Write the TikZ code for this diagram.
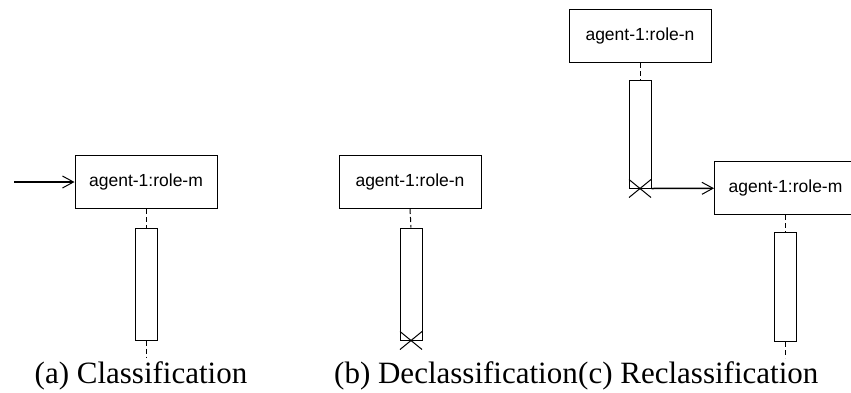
\documentclass[tikz,border=0pt]{standalone}
\usepackage{fontspec}
\setmainfont{Liberation Serif}
\setsansfont{Liberation Sans}
\usetikzlibrary{positioning,arrows.meta,calc}

\begin{document}
\begin{tikzpicture}[
        x=1pt, y=-1pt,
        role/.style={
            rectangle,
            draw=black,
            line width=1pt,
            minimum width=142pt,
            minimum height=53pt,
            inner sep=0pt,
            font=\sffamily\fontsize{17.5}{20}\selectfont
        },
        activation/.style={
            rectangle,
            draw=black,
            line width=1pt,
            minimum width=22pt,
            inner sep=0pt
        },
        lifeline/.style={line width=1pt, dash pattern=on 5pt off 3pt},
        msg/.style={line width=1.5pt, -{Straight Barb[length=11pt,width=12pt,line width=1pt]}},
        caption/.style={inner sep=0pt, anchor=base, font=\fontsize{31}{34}\selectfont}
    ]
    \useasboundingbox (0,0) rectangle (851,392);

    % (a) classification
    \coordinate (startA) at (14,182);
    \node[role] (roleA) at (146,182) {agent-1:role-m};
    \node[activation, minimum height=112pt] (barA) at (146,284) {};
    \coordinate (endA) at (146,358);
    \draw[msg] (startA) -- (roleA);
    \draw[lifeline] (roleA.south) -- (barA.north);
    \draw[lifeline] (barA.south) -- (endA);

    % (b) declassification
    \node[role] (roleB) at (410,182) {agent-1:role-n};
    \node[activation, minimum height=112pt] (barB) at (411,284) {};
    \draw[lifeline] (roleB.south) -- (barB.north);
    \draw[line width=1pt] ($(barB.south)+(-11,-9)$) -- ($(barB.south)+(11,9)$);
    \draw[line width=1pt] ($(barB.south)+(-11,9)$) -- ($(barB.south)+(11,-9)$);

    % (c) reclassification
    \node[role] (roleN) at (640,36) {agent-1:role-n};
    \node[activation, minimum height=108pt] (barN) at (640,134) {};
    \node[role, anchor=west] (roleM) at (714,188) {agent-1:role-m};
    \node[activation, minimum height=109pt] (barM) at (roleM.center |- 0,287) {};
    \coordinate (endM) at (roleM.center |- 0,358);
    \draw[lifeline] (roleN.south) -- (barN.north);
    \draw[line width=1pt] ($(barN.south)+(-11,-9)$) -- ($(barN.south)+(11,9)$);
    \draw[line width=1pt] ($(barN.south)+(-11,9)$) -- ($(barN.south)+(11,-9)$);
    \draw[msg] (barN.south east) -- (roleM);
    \draw[lifeline] (roleM.south) -- (barM.north);
    \draw[lifeline] (barM.south) -- (endM);

    % captions
    \node[caption] (capA) at (141,383) {(a) Classification};
    \node[caption, anchor=base east] (capB) at (578,383) {(b) Declassification};
    \node[caption, anchor=base west] (capC) at (capB.base east) {(c) Reclassification};
\end{tikzpicture}
\end{document}
